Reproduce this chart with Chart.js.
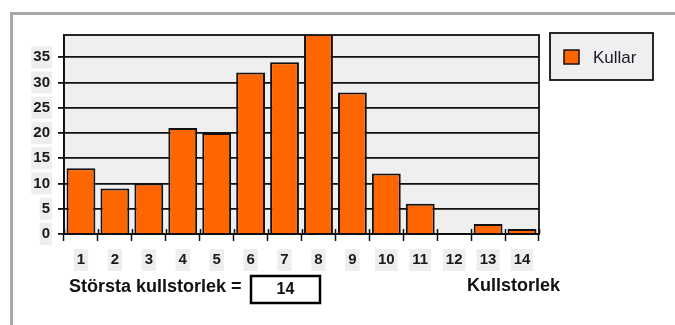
<!DOCTYPE html>
<html>
<head>
<meta charset="utf-8">
<script src="https://cdn.jsdelivr.net/npm/chart.js@4/dist/chart.umd.min.js"></script>
<style>
  html, body { margin: 0; padding: 0; background: #ffffff; }
  #wrap { position: relative; width: 675px; height: 325px; }
</style>
</head>
<body>
<div id="wrap"><canvas id="c" width="675" height="325"></canvas></div>
<script>
// Kullstorlek (litter size) categories and number of litters per size
const categories = ['1', '2', '3', '4', '5', '6', '7', '8', '9', '10', '11', '12', '13', '14'];
const kullar = [13, 9, 10, 21, 20, 32, 34, 40, 28, 12, 6, 0, 2, 1];
const yTickValues = [0, 5, 10, 15, 20, 25, 30, 35];
const seriesLabel = 'Kullar';
const xTitle = 'Kullstorlek';
const maxLabel = 'Största kullstorlek =';

// Largest litter size that actually occurs
let largest = '';
kullar.forEach((v, i) => { if (v > 0) largest = categories[i]; });

const FONT = "'Liberation Sans', Arial, sans-serif";
const ORANGE = '#ff6600';
const PLOT_BG = '#efefef';

const decor = {
  id: 'decor',
  beforeDraw(chart) {
    const { ctx, chartArea: a } = chart;
    ctx.save();
    // outer frame (top and left edges)
    ctx.fillStyle = '#a9a9a9';
    ctx.fillRect(10, 12, 665, 3);
    ctx.fillRect(10, 12, 3, 313);
    // plot background
    ctx.fillStyle = PLOT_BG;
    ctx.fillRect(a.left, a.top, a.right - a.left, a.bottom - a.top);
    ctx.restore();
  },
  afterDraw(chart) {
    const { ctx, chartArea: a } = chart;
    const xs = chart.scales.x;
    ctx.save();
    // plot outline
    ctx.strokeStyle = '#111';
    ctx.lineWidth = 1.8;
    ctx.strokeRect(a.left, a.top, a.right - a.left, a.bottom - a.top);
    // category tick marks crossing the axis line
    ctx.lineWidth = 1.5;
    ctx.beginPath();
    for (let i = 0; i <= categories.length; i++) {
      const x = Math.round(xs.getPixelForValue(i - 0.5)) + 0.5;
      ctx.moveTo(x, a.bottom - 5);
      ctx.lineTo(x, a.bottom);
    }
    ctx.stroke();

    // legend box
    const lx = 550, ly = 33, lw = 103, lh = 47;
    ctx.fillStyle = PLOT_BG;
    ctx.fillRect(lx, ly, lw, lh);
    ctx.strokeStyle = '#111';
    ctx.lineWidth = 1.8;
    ctx.strokeRect(lx, ly, lw, lh);
    const ds = chart.data.datasets[0];
    ctx.fillStyle = ds.backgroundColor;
    ctx.fillRect(564, 50, 15, 14);
    ctx.lineWidth = 1.5;
    ctx.strokeRect(564, 50, 15, 14);
    ctx.fillStyle = '#1a1a2a';
    ctx.font = '17px ' + FONT;
    ctx.textBaseline = 'middle';
    ctx.textAlign = 'left';
    ctx.fillText(ds.label, 593, 58);

    // bottom captions
    ctx.fillStyle = '#111';
    ctx.font = 'bold 18px ' + FONT;
    ctx.textBaseline = 'alphabetic';
    ctx.fillText(maxLabel, 69, 292);
    ctx.fillText(xTitle, 467, 291);
    // value box
    ctx.lineWidth = 2.5;
    ctx.strokeStyle = '#000';
    ctx.fillStyle = '#fff';
    ctx.fillRect(251, 276, 69, 27);
    ctx.strokeRect(251, 276, 69, 27);
    ctx.fillStyle = '#111';
    ctx.font = 'bold 16px ' + FONT;
    ctx.textAlign = 'center';
    ctx.textBaseline = 'middle';
    ctx.fillText(largest, 285.5, 290);
    ctx.restore();
  }
};

new Chart(document.getElementById('c'), {
  type: 'bar',
  data: {
    labels: categories,
    datasets: [{
      label: seriesLabel,
      data: kullar,
      backgroundColor: ORANGE,
      borderColor: '#111',
      borderWidth: 2,
      barPercentage: 0.85,
      categoryPercentage: 1.0
    }]
  },
  options: {
    responsive: false,
    animation: false,
    devicePixelRatio: 1,
    layout: { padding: { left: 0, top: 35, right: 136, bottom: 0 } },
    plugins: {
      legend: { display: false },
      tooltip: { enabled: false }
    },
    scales: {
      x: {
        grid: {
          display: true,
          drawOnChartArea: false,
          drawTicks: true,
          tickLength: 7,
          tickWidth: 1.5,
          tickColor: '#111',
          offset: true
        },
        border: { display: true, color: '#111', width: 1.8 },
        ticks: {
          color: '#1a1a1a',
          font: { family: FONT, size: 15, weight: 'bold' },
          padding: 10,
          maxRotation: 0,
          autoSkip: false,
          showLabelBackdrop: true,
          backdropColor: '#eeeeee',
          backdropPadding: { x: 3, y: 2 }
        },
        afterFit(scale) { scale.height = 91; }
      },
      y: {
        min: 0,
        max: 39.4,
        grid: {
          color: '#111',
          lineWidth: 1.8,
          drawTicks: true,
          tickLength: 6,
          tickColor: '#111'
        },
        border: { display: true, color: '#111', width: 1.8 },
        ticks: {
          includeBounds: false,
          color: '#1a1a1a',
          font: { family: FONT, size: 15, weight: 'bold' },
          padding: 8,
          showLabelBackdrop: true,
          backdropColor: '#eeeeee',
          backdropPadding: { x: 2, y: 2 }
        },
        afterBuildTicks(scale) {
          scale.ticks = yTickValues.map(v => ({ value: v }));
        },
        afterFit(scale) { scale.width = 64; }
      }
    }
  },
  plugins: [decor]
});
</script>
</body>
</html>
